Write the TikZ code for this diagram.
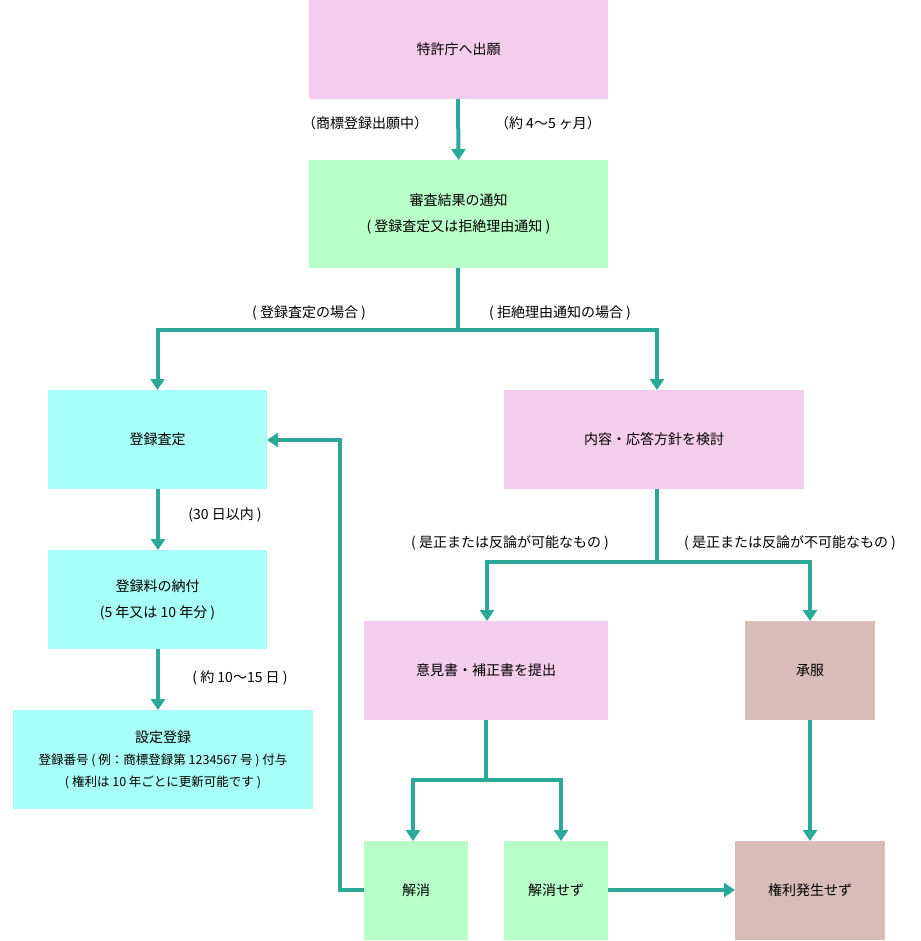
\documentclass[tikz,border=0pt]{standalone}
\usepackage{fontspec}
\setmainfont{Noto Sans CJK JP}
\usetikzlibrary{arrows.meta}
\definecolor{pk}{HTML}{F4CCEC}
\definecolor{gr}{HTML}{B8FFC8}
\definecolor{cy}{HTML}{A8FFF8}
\definecolor{br}{HTML}{D8BCB8}
\definecolor{tl}{HTML}{2AA898}
\begin{document}
\begin{tikzpicture}[x=1pt,y=-1pt,
  box/.style={draw=none,inner sep=0pt,align=center,font=\fontsize{14}{26}\selectfont},
  lab/.style={font=\fontsize{14}{18}\selectfont,inner sep=0pt},
  ar/.style={draw=tl,line width=4pt,-{Triangle[length=11pt,width=14pt]}},
  ln/.style={draw=tl,line width=4pt}]
\useasboundingbox (0,0) rectangle (920,941);
\newcommand\bx[7]{\fill[#6] (#2,#3) rectangle (#4,#5); \node[box] (#1) at ({(#2+#4)/2},{(#3+#5)/2}) {#7};
  \coordinate (#1-n) at ({(#2+#4)/2},#3);}
\bx{a}{309}{0}{608}{99}{pk}{特許庁へ出願}
\bx{b}{309}{160}{608}{268}{gr}{審査結果の通知\\( 登録査定又は拒絶理由通知 )}
\bx{c}{48}{390}{267}{489}{cy}{登録査定}
\bx{d}{504}{390}{804}{489}{pk}{内容・応答方針を検討}
\bx{e}{48}{550}{267}{649}{cy}{登録料の納付\\(5 年又は 10 年分 )}
\bx{f}{13}{710}{313}{809}{cy}{設定登録\\[-4pt]{\fontsize{12.5}{22}\selectfont 登録番号 ( 例：商標登録第 1234567 号 ) 付与}\\[-4pt]{\fontsize{12.5}{18}\selectfont ( 権利は 10 年ごとに更新可能です )}}
\bx{g}{364}{621}{608}{720}{pk}{意見書・補正書を提出}
\bx{h}{745}{621}{875}{720}{br}{承服}
\bx{i}{364}{841}{468}{940}{gr}{解消}
\bx{j}{504}{841}{608}{940}{gr}{解消せず}
\bx{k}{735}{841}{885}{940}{br}{権利発生せず}
\coordinate (s1) at (458,330);
\coordinate (s2) at (657,562);
\coordinate (s3) at (486,780);
\coordinate (cr) at (267,440);
\draw[ar] (458,99) -- (b-n);
\draw[ln] (458,268) -- (s1);
\draw[ar] (s1) -| (c-n);
\draw[ar] (s1) -| (657,390);
\draw[ar] (158,489) -- (158,550);
\draw[ar] (158,649) -- (158,710);
\draw[ln] (657,489) -- (s2);
\draw[ar] (s2) -| (487,621);
\draw[ar] (s2) -| (810,621);
\draw[ln] (486,720) -- (s3);
\draw[ar] (s3) -| (413,841);
\draw[ar] (s3) -| (561,841);
\draw[ar] (810,720) -- (810,841);
\draw[ar] (608,890) -- (735,890);
\draw[ar] (364,890) -| (340,440) -- (cr);
\node[lab] (l1) at (365,123) {（商標登録出願中）};
\node[lab] (l2) at (548,123) {（約 4〜5 ヶ月）};
\node[lab] (l3) at (309,313) {( 登録査定の場合 )};
\node[lab] (l4) at (560,313) {( 拒絶理由通知の場合 )};
\node[lab] (l5) at (225,515) {(30 日以内 )};
\node[lab] (l6) at (240,678) {( 約 10〜15 日 )};
\node[lab] (l7) at (510,543) {( 是正または反論が可能なもの )};
\node[lab] (l8) at (790,543) {( 是正または反論が不可能なもの )};
\end{tikzpicture}
\end{document}
